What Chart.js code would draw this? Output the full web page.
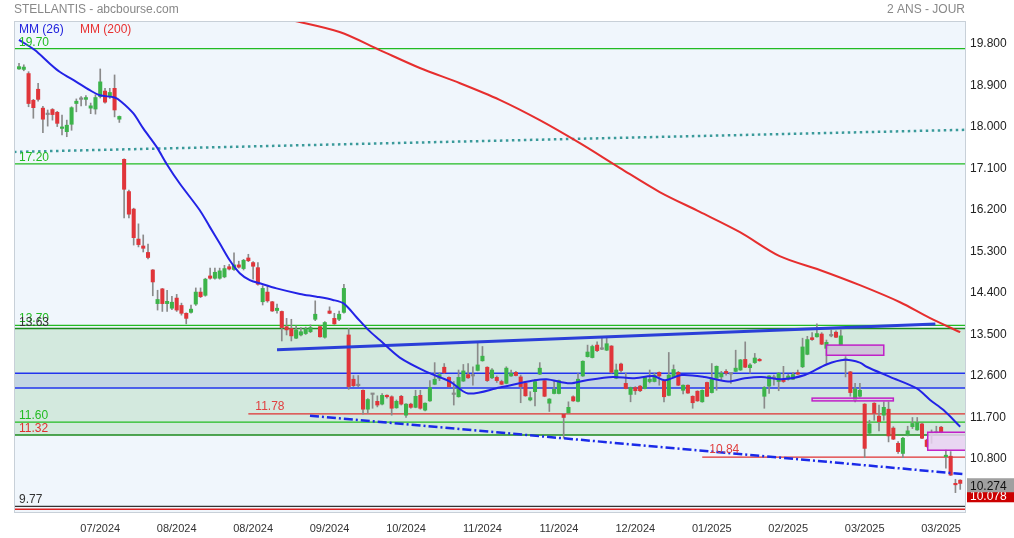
<!DOCTYPE html>
<html>
<head>
<meta charset="utf-8">
<script src="https://cdn.jsdelivr.net/npm/chart.js@4.4.1/dist/chart.umd.min.js"></script>
<style>
  html, body { margin: 0; padding: 0; background: #fff; }
  canvas { display: block; }
</style>
</head>
<body>
<canvas id="chart" width="1014" height="538"></canvas>
<script>
// Daily sessions, oldest first
const opens = [
  19.26,19.25,19.16,18.58,18.82,18.41,18.27,18.38,18.32,17.97,
  17.90,18.06,18.51,18.60,18.60,18.41,18.39,18.66,18.78,18.66,
  18.84,18.17,17.30,16.60,16.22,15.57,15.42,15.28,14.90,14.17,
  14.49,14.17,14.07,14.29,14.13,13.96,13.98,14.16,14.42,14.35,
  14.77,14.72,14.72,14.75,14.97,14.91,15.01,14.93,15.16,15.06,
  14.95,14.21,14.42,14.21,14.02,14.00,13.67,13.63,13.42,13.49,
  13.52,13.56,13.83,13.67,13.44,14.01,13.85,13.83,13.98,13.49,
  12.53,12.39,12.29,11.88,12.20,12.05,11.99,12.17,12.15,11.91,
  12.16,11.75,11.99,11.92,12.18,11.86,12.06,12.42,12.55,12.79,
  12.57,12.20,12.15,12.49,12.63,12.60,12.72,12.93,12.79,12.56,
  12.57,12.48,12.44,12.60,12.68,12.58,12.44,12.08,12.26,12.64,
  12.50,12.01,12.22,12.22,11.77,11.80,12.15,12.05,12.60,13.02,
  13.00,13.27,13.18,13.16,13.25,12.55,12.86,12.44,12.20,12.35,
  12.38,12.33,12.48,12.48,12.68,12.49,12.18,12.58,12.68,12.29,
  12.40,12.16,12.27,12.04,12.46,12.24,12.55,12.58,12.70,12.64,
  12.70,12.73,12.96,12.78,12.89,12.96,12.16,12.38,12.55,12.48,
  12.53,12.53,12.53,12.66,12.80,13.07,13.43,13.45,13.51,13.20,
  13.47,13.55,13.27,12.94,12.69,12.08,12.16,11.99,11.36,12.01,
  11.73,11.75,11.88,11.47,11.14,10.92,11.32,11.50,11.43,11.56,
  11.21,11.32,11.36,11.49,10.85,10.86,10.27,10.34
];
const highs = [
  19.38,19.35,19.20,18.60,18.95,18.45,18.37,18.40,18.34,18.26,
  18.15,18.44,18.61,18.66,18.68,18.52,18.70,19.26,18.84,18.84,
  19.13,18.24,17.31,16.63,16.24,15.90,15.66,15.46,14.91,14.46,
  14.50,14.46,14.33,14.37,14.18,13.97,14.14,14.51,14.51,14.72,
  14.94,14.94,14.94,15.00,15.02,15.27,15.09,15.13,15.24,15.08,
  15.06,14.56,14.55,14.22,14.16,14.01,13.85,13.83,13.69,13.65,
  13.66,13.71,14.23,13.69,13.78,14.10,13.96,14.01,14.59,13.63,
  12.61,12.61,12.30,12.11,12.22,12.17,12.22,12.19,12.17,12.08,
  12.18,12.00,12.01,12.29,12.29,12.02,12.50,12.89,12.67,12.87,
  12.58,12.48,12.73,12.85,12.87,12.80,13.34,13.24,12.80,12.76,
  12.60,12.51,12.80,12.73,12.70,12.62,12.47,12.26,12.53,12.89,
  12.51,12.11,12.50,12.51,11.79,12.04,12.17,12.65,12.93,13.27,
  13.27,13.34,13.42,13.42,13.26,12.86,12.88,12.66,12.36,12.37,
  12.40,12.58,12.73,12.66,12.69,12.50,13.11,12.84,12.70,12.41,
  12.41,12.17,12.28,12.30,12.47,12.87,12.82,12.70,12.74,12.66,
  13.16,12.96,13.34,12.87,13.09,12.98,12.37,12.61,12.62,12.68,
  12.81,12.64,12.68,12.73,13.42,13.46,13.54,13.73,13.54,13.38,
  13.60,13.58,13.60,13.02,12.70,12.44,12.44,12.00,11.64,12.02,
  11.97,12.04,12.04,11.50,11.18,11.27,11.51,11.70,11.70,11.58,
  11.23,11.43,11.51,11.51,11.01,10.96,10.36,10.35
];
const lows = [
  19.25,19.22,18.44,18.19,18.56,17.88,18.02,18.15,18.01,17.83,
  17.79,17.93,18.33,18.46,18.47,18.29,18.28,18.63,18.52,18.62,
  18.22,18.10,16.03,16.03,15.44,15.40,15.29,15.14,14.34,14.03,
  14.00,14.00,14.04,14.00,13.92,13.73,13.96,14.13,14.30,14.33,
  14.70,14.70,14.70,14.73,14.90,14.89,14.94,14.90,15.08,14.70,
  14.57,14.14,14.20,14.00,13.96,13.36,13.49,13.36,13.41,13.47,
  13.50,13.54,13.80,13.44,13.42,13.95,13.72,13.80,13.96,12.31,
  12.37,12.37,11.77,11.79,11.90,11.93,11.97,12.12,11.75,11.90,
  11.97,11.70,11.90,11.91,11.88,11.84,12.05,12.41,12.50,12.66,
  12.36,11.97,12.14,12.48,12.55,12.40,12.71,12.92,12.48,12.54,
  12.46,12.41,12.43,12.59,12.60,12.02,12.16,12.06,11.95,12.63,
  12.15,11.83,12.21,12.21,11.25,11.79,12.05,12.04,12.59,13.01,
  12.99,13.13,13.17,13.15,12.66,12.54,12.68,12.32,12.04,12.20,
  12.26,12.32,12.45,12.47,12.40,12.04,12.17,12.57,12.39,12.21,
  12.22,11.90,12.05,12.03,12.15,12.23,12.29,12.52,12.62,12.44,
  12.69,12.72,12.78,12.66,12.87,12.92,11.90,12.22,12.40,12.28,
  12.46,12.51,12.52,12.63,12.78,13.06,13.37,13.44,13.28,12.84,
  13.45,13.43,13.26,12.58,12.16,12.04,12.14,10.83,11.35,11.64,
  11.41,11.64,11.17,11.22,10.92,10.83,11.30,11.46,11.42,11.24,
  11.06,11.14,11.35,11.36,10.60,10.44,10.07,10.14
];
const closes = [
  19.31,19.30,18.51,18.42,18.60,18.17,18.27,18.27,18.08,18.00,
  18.04,18.42,18.56,18.60,18.64,18.46,18.64,18.98,18.54,18.75,
  18.37,18.23,16.65,16.11,15.60,15.45,15.37,15.17,14.64,14.26,
  14.17,14.22,14.20,14.03,13.96,13.85,14.05,14.42,14.32,14.70,
  14.72,14.85,14.88,14.93,14.92,15.01,14.96,15.11,15.10,14.98,
  14.59,14.50,14.23,14.01,14.07,13.65,13.60,13.47,13.60,13.56,
  13.62,13.65,13.94,13.45,13.76,13.96,13.73,13.94,14.50,12.37,
  12.39,12.39,11.88,12.09,12.20,11.97,12.18,12.15,11.90,12.05,
  11.99,11.99,11.92,12.16,11.90,12.01,12.35,12.53,12.63,12.67,
  12.37,12.20,12.57,12.71,12.56,12.60,12.84,13.03,12.50,12.73,
  12.50,12.42,12.77,12.66,12.61,12.37,12.17,12.13,12.48,12.77,
  12.16,12.10,12.31,12.50,11.70,11.92,12.06,12.53,12.92,13.12,
  13.24,13.15,13.18,13.30,12.68,12.73,12.72,12.33,12.35,12.28,
  12.28,12.57,12.53,12.62,12.60,12.15,12.62,12.74,12.40,12.40,
  12.23,12.02,12.06,12.29,12.16,12.53,12.81,12.66,12.66,12.64,
  12.77,12.95,12.79,12.84,12.99,12.93,12.35,12.60,12.55,12.66,
  12.48,12.60,12.63,12.64,13.23,13.39,13.39,13.52,13.29,13.33,
  13.47,13.44,13.47,12.94,12.24,12.32,12.29,11.03,11.56,11.79,
  11.61,11.92,11.30,11.23,10.96,11.25,11.41,11.57,11.59,11.25,
  11.07,11.32,11.36,11.37,10.88,10.45,10.24,10.27
];

// x tick labels and the session they sit on
const xTickIdx = [17, 33, 49, 65, 81, 97, 113, 129, 145, 161, 177, 193];
const xTickLabels = ["07/2024", "08/2024", "08/2024", "09/2024", "10/2024", "11/2024",
                     "11/2024", "12/2024", "01/2025", "02/2025", "03/2025", "03/2025"];
const yTicks = [19.8, 18.9, 18.0, 17.1, 16.2, 15.3, 14.4, 13.5, 12.6, 11.7, 10.8];

// moving averages, sampled along the curves
const mm26Idx = [0, 3.3, 6.4, 8.5, 12.0, 14.8, 16.9, 20.0, 21.4, 23.9, 26.0, 28.8, 30.9, 33.6,
  37.8, 39.9, 42.0, 44.1, 46.2, 48.3, 50.4, 53.9, 58.8, 62.3, 65.7, 68.0, 70.6, 73.1, 75.5,
  79.7, 85.3, 90.2, 94.0, 100.6, 107.6, 110.4, 115.3, 118.8, 124.3, 128.5, 132.7, 135.2,
  138.7, 143.5, 148.4, 151.9, 155.4, 159.6, 164.5, 169.0, 172.9, 176.0, 177.4, 182.3,
  187.9, 190.7, 193.5, 197.0];
const mm26Val = [19.89, 19.67, 19.38, 19.20, 18.98, 18.80, 18.69, 18.64, 18.55, 18.30, 17.97,
  17.57, 17.20, 16.78, 16.20, 15.84, 15.48, 15.11, 14.83, 14.68, 14.61, 14.50, 14.38, 14.32,
  14.25, 14.17, 13.88, 13.60, 13.38, 13.00, 12.69, 12.48, 12.22, 12.35, 12.50, 12.53, 12.44,
  12.51, 12.58, 12.55, 12.60, 12.51, 12.62, 12.58, 12.48, 12.55, 12.58, 12.53, 12.62, 12.85,
  12.95, 12.89, 12.80, 12.58, 12.33, 12.08, 11.86, 11.50];
const mm200Idx = [50, 56.2, 67.1, 75.5, 83.9, 92.3, 100.6, 109, 117.4, 125.8, 134.1, 142.5,
  150.9, 159.2, 167.6, 176, 184.4, 190.6, 197];
const mm200Val = [20.52, 20.34, 20.06, 19.67, 19.28, 18.95, 18.59, 18.15, 17.65, 17.11, 16.59,
  16.16, 15.72, 15.20, 14.90, 14.57, 14.20, 13.86, 13.55];

// levels drawn across the whole chart
const levelValues = [19.70, 17.20, 13.70, 13.63, 11.60, 11.32, 9.77, 9.71];
const levelLabels = ["19.70", "17.20", "13.70", "13.63", "11.60", "11.32", "9.77", ""];
// red levels starting at a given session
const redLevelValues = [11.78, 10.84];
const redLevelStart = [48, 143];
const zoneBounds = [13.63, 11.32];
const bandBounds = [12.66, 12.34];
// trend lines: start session, start value, end session, end value
const trendUp = [54, 13.17, 191.8, 13.73];
const trendDown = [60.9, 11.74, 198, 10.47];
const trendDotted = [-1.05, 17.46, 198, 17.94];
// rectangles
const boxStart = [169, 166, 190.2];
const boxEnd = [181, 183, 199];
const boxTop = [13.27, 12.12, 11.38];
const boxBottom = [13.05, 12.06, 10.99];
const lastPrice = 10.274;
const lowPrice = 10.078;

const FONT = "'Liberation Sans', Arial, sans-serif";
Chart.defaults.font.family = FONT;

const levelColors = ["#22bb22", "#22bb22", "#22bb22", "#1d8a1d", "#22bb22", "#1d8a1d", "#333333", "#dd2222"];
const labelColors = ["#22bb22", "#22bb22", "#22bb22", "#333333", "#22bb22", "#e03030", "#333333", "#333333"];

const overlay = {
  id: "overlay",
  beforeDraw(chart) {
    const { ctx, chartArea: a } = chart;
    ctx.save();
    ctx.fillStyle = "#f0f6fc";
    ctx.fillRect(a.left, a.top, a.right - a.left, a.bottom - a.top);
    ctx.restore();
  },
  beforeDatasetsDraw(chart) {
    const { ctx, chartArea: a, scales } = chart;
    const x = scales.x, y = scales.y;
    ctx.save();
    ctx.beginPath();
    ctx.rect(a.left, a.top, a.right - a.left, a.bottom - a.top);
    ctx.clip();

    // green zone
    let y1 = y.getPixelForValue(zoneBounds[0]), y2 = y.getPixelForValue(zoneBounds[1]);
    ctx.fillStyle = "#d3e9de";
    ctx.fillRect(a.left, y1, a.right - a.left, y2 - y1);
    // blue band
    y1 = y.getPixelForValue(bandBounds[0]); y2 = y.getPixelForValue(bandBounds[1]);
    ctx.fillStyle = "#c3d5e3";
    ctx.fillRect(a.left, y1, a.right - a.left, y2 - y1);
    ctx.strokeStyle = "#2233ee";
    ctx.lineWidth = 1.5;
    [y1, y2].forEach(p => {
      ctx.beginPath(); ctx.moveTo(a.left, p); ctx.lineTo(a.right, p); ctx.stroke();
    });

    levelValues.forEach((v, i) => {
      const p = y.getPixelForValue(v);
      ctx.strokeStyle = levelColors[i];
      ctx.lineWidth = 1.3;
      ctx.beginPath(); ctx.moveTo(a.left, p); ctx.lineTo(a.right, p); ctx.stroke();
    });

    redLevelValues.forEach((v, i) => {
      const p = y.getPixelForValue(v);
      ctx.strokeStyle = "#e03030";
      ctx.lineWidth = 1.3;
      ctx.beginPath(); ctx.moveTo(x.getPixelForValue(redLevelStart[i]), p); ctx.lineTo(a.right, p); ctx.stroke();
    });
    ctx.restore();
  },
  afterDatasetsDraw(chart) {
    const { ctx, chartArea: a, scales } = chart;
    const x = scales.x, y = scales.y;
    ctx.save();
    ctx.beginPath();
    ctx.rect(a.left, a.top, a.right - a.left, a.bottom - a.top);
    ctx.clip();
    // rectangles
    const fills = ["rgba(205,190,215,0.85)", "rgba(215,200,225,0.6)", "rgba(232,208,240,0.85)"];
    boxStart.forEach((s, i) => {
      const l = x.getPixelForValue(s), r = x.getPixelForValue(boxEnd[i]);
      const t = y.getPixelForValue(boxTop[i]), b = y.getPixelForValue(boxBottom[i]);
      ctx.fillStyle = fills[i];
      ctx.fillRect(l, t, r - l, b - t);
      ctx.strokeStyle = "#c020c8";
      ctx.lineWidth = 1.5;
      ctx.strokeRect(l, t, r - l, b - t);
    });

    // level labels
    ctx.font = "12px " + FONT;
    ctx.textBaseline = "alphabetic";
    ctx.textAlign = "left";
    levelValues.forEach((v, i) => {
      if (!levelLabels[i]) return;
      ctx.fillStyle = labelColors[i];
      ctx.fillText(levelLabels[i], a.left + 5, y.getPixelForValue(v) - 3);
    });
    redLevelValues.forEach((v, i) => {
      ctx.fillStyle = "#e04040";
      ctx.fillText(v.toFixed(2), x.getPixelForValue(redLevelStart[i]) + 7, y.getPixelForValue(v) - 4);
    });
    ctx.restore();

    // border of the plot
    ctx.save();
    ctx.strokeStyle = "#c8d0d8";
    ctx.lineWidth = 1;
    ctx.strokeRect(a.left + 0.5, a.top + 0.5, a.right - a.left, a.bottom - a.top);
    ctx.restore();
  },
  afterDraw(chart) {
    const { ctx, chartArea: a, scales } = chart;
    const y = scales.y;
    ctx.save();
    ctx.font = "12px " + FONT;
    ctx.textBaseline = "alphabetic";
    ctx.fillStyle = "#888";
    ctx.textAlign = "left";
    ctx.fillText("STELLANTIS - abcbourse.com", a.left, 13);
    ctx.textAlign = "right";
    ctx.fillText("2 ANS - JOUR", a.right, 13);

    ctx.textAlign = "left";
    ctx.fillStyle = "#2222dd";
    ctx.fillText("MM (26)", a.left + 5, 33);
    ctx.fillStyle = "#e83030";
    ctx.fillText("MM (200)", a.left + 66, 33);

    // price tags on the right axis
    ctx.textBaseline = "middle";
    let p = y.getPixelForValue(lowPrice) + 3;
    ctx.fillStyle = "#cc0000";
    ctx.fillRect(a.right + 2, p - 7, chart.width - a.right - 2, 14);
    ctx.fillStyle = "#fff";
    ctx.fillText(lowPrice.toFixed(3), a.right + 5, p + 1);
    p = y.getPixelForValue(lastPrice) + 2;
    ctx.fillStyle = "#a0a0a0";
    ctx.fillRect(a.right + 2, p - 7, chart.width - a.right - 2, 14);
    ctx.fillStyle = "#111";
    ctx.fillText(lastPrice.toFixed(3), a.right + 5, p + 1);
    ctx.restore();
  }
};

const wickData = lows.map((l, i) => ({ x: i, y: [l, highs[i]] }));
const bodyData = opens.map((o, i) => ({ x: i, y: [o, closes[i]] }));
const bodyColors = opens.map((o, i) => closes[i] > o ? "#3cb44a" : (closes[i] < o ? "#e0353a" : "#8a8a8a"));
const toPoints = (idx, val) => idx.map((v, i) => ({ x: v, y: val[i] }));
const segment = t => [{ x: t[0], y: t[1] }, { x: t[2], y: t[3] }];

new Chart(document.getElementById("chart"), {
  type: "bar",
  data: {
    datasets: [
      { type: "line", data: toPoints(mm26Idx, mm26Val), borderColor: "#2323e6", borderWidth: 2,
        pointRadius: 0, tension: 0.3, clip: 0, order: 0 },
      { type: "line", data: toPoints(mm200Idx, mm200Val), borderColor: "#e62e2e", borderWidth: 2,
        pointRadius: 0, tension: 0.3, clip: 0, order: 1 },
      { type: "line", data: segment(trendUp), borderColor: "#2a3fd8", borderWidth: 3,
        pointRadius: 0, clip: 0, order: 2 },
      { type: "line", data: segment(trendDown), borderColor: "#1a2ae8", borderWidth: 2.5,
        borderDash: [9, 3, 2, 3], pointRadius: 0, clip: 0, order: 3 },
      { type: "line", data: segment(trendDotted), borderColor: "#3a9a9a", borderWidth: 2.5,
        borderDash: [2.5, 3.5], pointRadius: 0, clip: 0, order: 4 },
      { data: bodyData, backgroundColor: bodyColors, barThickness: 3.4, minBarLength: 1.5,
        grouped: false, order: 5 },
      { data: wickData, backgroundColor: "#8a8a8a", barThickness: 1, grouped: false, order: 6 }
    ]
  },
  options: {
    responsive: false,
    animation: false,
    layout: { padding: { left: 14, top: 21, right: 0, bottom: 0 } },
    plugins: { legend: { display: false }, tooltip: { enabled: false } },
    scales: {
      x: {
        type: "linear",
        min: -1.05,
        max: 198,
        offset: false,
        grid: { display: false, drawTicks: false },
        border: { display: false },
        afterBuildTicks: s => { s.ticks = xTickIdx.map(v => ({ value: v })); },
        afterFit: s => { s.height = 26; },
        ticks: {
          autoSkip: false, maxRotation: 0, padding: 10, color: "#333",
          font: { size: 11 },
          callback: v => xTickLabels[xTickIdx.indexOf(v)]
        }
      },
      y: {
        type: "linear",
        position: "right",
        min: 9.65,
        max: 20.30,
        grid: { display: false, drawTicks: false },
        border: { display: false },
        afterBuildTicks: s => { s.ticks = yTicks.map(v => ({ value: v })); },
        afterFit: s => { s.width = 49; },
        ticks: { padding: 5, color: "#222", font: { size: 12 }, callback: v => v.toFixed(3) }
      }
    }
  },
  plugins: [overlay]
});
</script>
</body>
</html>
